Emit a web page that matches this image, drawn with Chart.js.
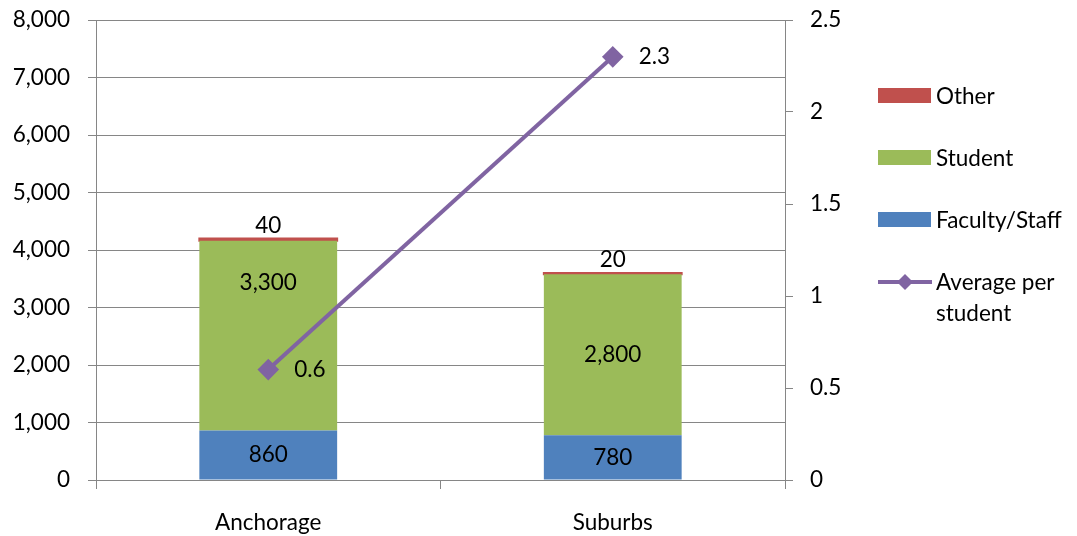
<!DOCTYPE html>
<html><head><meta charset="utf-8">
<script src="https://cdn.jsdelivr.net/npm/chart.js@4"></script>
<style>
html,body{margin:0;padding:0;background:#fff;}
#wrap{position:relative;width:1077px;height:536px;font-family:Lato, "Open Sans", sans-serif;}
#legend{position:absolute;left:878px;top:0;width:199px;height:400px;}
.item{position:absolute;left:0;display:flex;align-items:flex-start;font-size:22.5px;color:#000;white-space:nowrap;line-height:31px;}
.sw{width:53px;height:15px;margin-right:5px;margin-top:8px;flex:none;}
.lsw{width:54px;height:20px;margin-right:4px;margin-top:6px;flex:none;}
</style></head>
<body>
<div id="wrap">
<canvas id="c" width="1077" height="536"></canvas>
<div id="legend">
  <div class="item" style="top:80px"><div class="sw" style="background:#C0504D"></div><span>Other</span></div>
  <div class="item" style="top:142px"><div class="sw" style="background:#9BBB59"></div><span>Student</span></div>
  <div class="item" style="top:204px"><div class="sw" style="background:#4F81BD"></div><span>Faculty/Staff</span></div>
  <div class="item" style="top:266px"><svg class="lsw" viewBox="0 0 54 20"><line x1="0" y1="10" x2="54" y2="10" stroke="#8064A2" stroke-width="4"/><polygon points="27,2 35,10 27,18 19,10" fill="#8064A2"/></svg><span>Average per<br>student</span></div>
</div>
</div>
<script>
const categories = ['Anchorage', 'Suburbs'];
const facultyStaff = [860, 780];
const student = [3300, 2800];
const other = [40, 20];
const avgPerStudent = [0.6, 2.3];
const studentLabelAnchor = ['top', 'center'];
const leftMax = 8000, leftStep = 1000;
const rightMax = 2.5, rightStep = 0.5;

const FONT = {family: 'Lato, "Open Sans", sans-serif', size: 22.5};
const AXIS = '#868686';

const labelPlugin = {
  id: 'labels',
  afterDatasetsDraw(chart) {
    const ctx = chart.ctx;
    ctx.save();
    ctx.font = FONT.size + 'px ' + FONT.family;
    ctx.fillStyle = '#000';
    chart.data.datasets.forEach((ds, di) => {
      const meta = chart.getDatasetMeta(di);
      meta.data.forEach((el, i) => {
        const v = ds.data[i];
        if (ds.key === 'line') {
          ctx.textAlign = 'left'; ctx.textBaseline = 'middle';
          ctx.fillText(String(v), el.x + 26, el.y);
        } else if (ds.key === 'other') {
          ctx.textAlign = 'center'; ctx.textBaseline = 'bottom';
          ctx.fillText(v.toLocaleString('en-US'), el.x, el.y - 2);
        } else {
          ctx.textAlign = 'center'; ctx.textBaseline = 'middle';
          let y = (el.y + el.base) / 2;
          if (ds.key === 'student' && studentLabelAnchor[i] === 'top') y = el.y + 42;
          ctx.fillText(v.toLocaleString('en-US'), el.x, y);
        }
      });
    });
    ctx.restore();
  }
};

new Chart(document.getElementById('c'), {
  type: 'bar',
  data: {
    labels: categories,
    datasets: [
      {key: 'line', type: 'line', label: 'Average per student', data: avgPerStudent, yAxisID: 'y1', order: 0,
       borderColor: '#8064A2', backgroundColor: '#8064A2', borderWidth: 4, pointStyle: 'rectRot',
       pointRadius: 8, pointHoverRadius: 8, pointBackgroundColor: '#8064A2', pointBorderColor: '#8064A2', tension: 0},
      {key: 'faculty', label: 'Faculty/Staff', data: facultyStaff, backgroundColor: '#4F81BD', yAxisID: 'y', order: 1, stack: 's'},
      {key: 'student', label: 'Student', data: student, backgroundColor: '#9BBB59', yAxisID: 'y', order: 1, stack: 's'},
      {key: 'other', label: 'Other', data: other, backgroundColor: '#C0504D', inflateAmount: 1,
       yAxisID: 'y', order: 1, stack: 's'}
    ]
  },
  options: {
    responsive: false,
    animation: false,
    events: [],
    layout: {padding: {top: 20, left: 0, right: 0, bottom: 0}},
    datasets: {bar: {barPercentage: 0.4, categoryPercentage: 1}},
    plugins: {legend: {display: false}, tooltip: {enabled: false}},
    scales: {
      x: {
        stacked: true, offset: true,
        grid: {offset: true, drawOnChartArea: false, tickLength: 9, color: AXIS, lineWidth: 1},
        border: {color: AXIS, width: 1},
        ticks: {font: FONT, color: '#000', padding: 20},
        afterFit(s) { s.height = 56; s.paddingLeft = 0; s.paddingRight = 0; }
      },
      y: {
        stacked: true, position: 'left', min: 0, max: leftMax,
        grid: {color: AXIS, tickLength: 8, lineWidth: 1},
        border: {color: AXIS, width: 1},
        ticks: {stepSize: leftStep, font: FONT, color: '#000', padding: 18,
                callback: v => Number(v).toLocaleString('en-US')},
        afterFit(s) { s.width = 96; s.paddingTop = 0; s.paddingBottom = 0; }
      },
      y1: {
        position: 'right', min: 0, max: rightMax,
        grid: {drawOnChartArea: false, color: AXIS, tickLength: 8, lineWidth: 1},
        border: {color: AXIS, width: 1},
        ticks: {stepSize: rightStep, font: FONT, color: '#000', padding: 17, callback: v => String(v)},
        afterFit(s) { s.width = 292; s.paddingTop = 0; s.paddingBottom = 0; }
      }
    }
  },
  plugins: [labelPlugin]
});
</script>
</body></html>
